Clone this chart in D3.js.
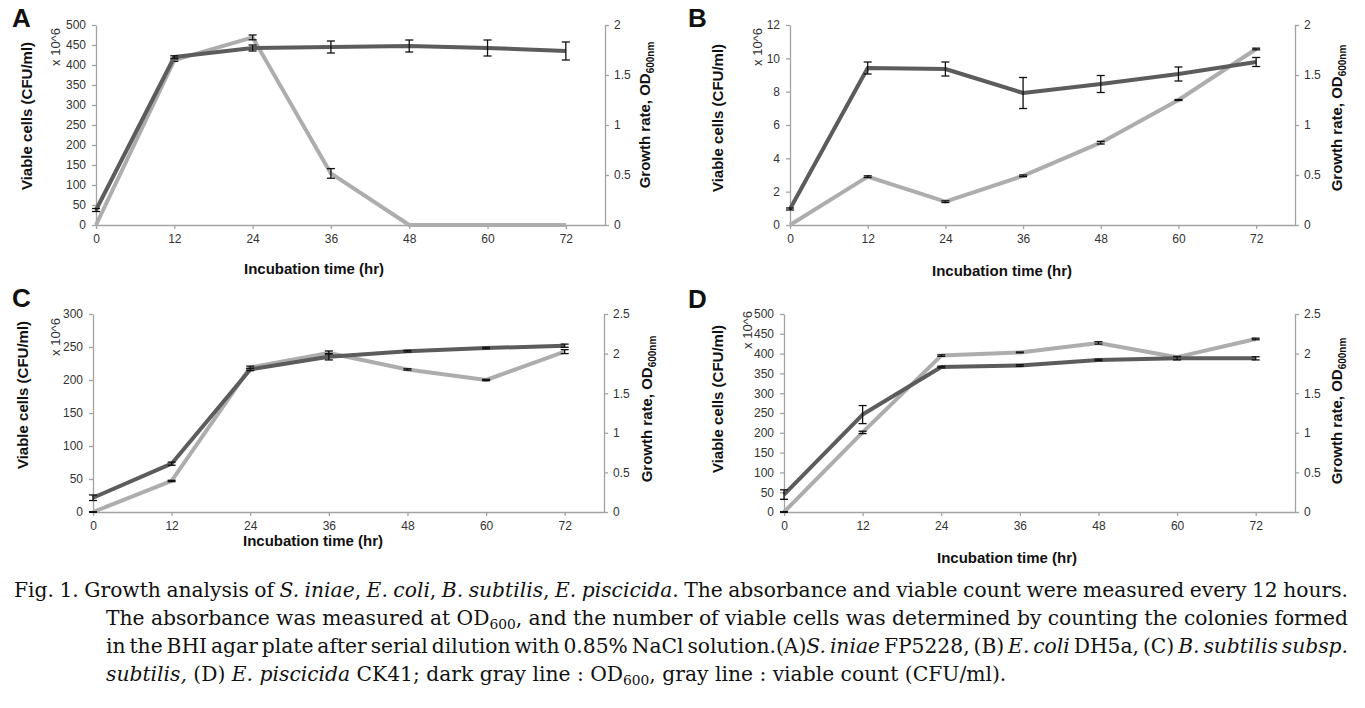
<!DOCTYPE html>
<html><head><meta charset="utf-8">
<script src="https://cdn.jsdelivr.net/npm/d3@7"></script>
<style>body{margin:0;background:#fff}svg{display:block}</style>
</head><body><svg id="c" width="1365" height="708"></svg>
<script>
// ---------- data ----------
const hours = [0, 12, 24, 36, 48, 60, 72];
const panelLetters = ["A", "B", "C", "D"];

const viableA    = [0, 412, 469, 129, 0, 0, 0];
const viableErrA = [0, 3, 6, 12, 0, 0, 0];
const odA        = [0.15, 1.68, 1.77, 1.78, 1.79, 1.77, 1.74];
const odErrA     = [0.015, 0.012, 0.03, 0.06, 0.06, 0.08, 0.09];

const viableB    = [0, 2.9, 1.4, 2.95, 4.94, 7.5, 10.56];
const viableErrB = [0, 0.05, 0.05, 0.05, 0.08, 0.03, 0.05];
const odB        = [0.16, 1.57, 1.56, 1.32, 1.41, 1.51, 1.63];
const odErrB     = [0.01, 0.06, 0.07, 0.155, 0.085, 0.07, 0.045];

const viableC    = [0, 47, 219, 241, 216, 200, 243];
const viableErrC = [0.5, 1, 2, 3, 1, 1, 3];
const odC        = [0.18, 0.61, 1.80, 1.96, 2.03, 2.07, 2.10];
const odErrC     = [0.035, 0.02, 0.015, 0.04, 0.01, 0.01, 0.02];

const viableD    = [0, 201, 395, 403, 427, 391, 437];
const viableErrD = [1, 3, 2, 1, 3, 2, 2];
const odD        = [0.22, 1.23, 1.83, 1.85, 1.92, 1.94, 1.94];
const odErrD     = [0.06, 0.114, 0.01, 0.01, 0.01, 0.02, 0.02];

const leftTicks500 = [0, 50, 100, 150, 200, 250, 300, 350, 400, 450, 500];
const leftTicks12  = [0, 2, 4, 6, 8, 10, 12];
const leftTicks300 = [0, 50, 100, 150, 200, 250, 300];
const rightTicks2   = [0, 0.5, 1, 1.5, 2];
const rightTicks2_5 = [0, 0.5, 1, 1.5, 2, 2.5];

const xTitle = "Incubation time (hr)";
const yLeftTitle = "Viable cells (CFU/ml)";
const yUnit = "x 10^6";
const yRightTitle = "Growth rate, OD";
const yRightSub = "600nm";

// ---------- layout ----------
const panels = [
  {letter: panelLetters[0], viable: viableA, vErr: viableErrA, od: odA, oErr: odErrA, lt: leftTicks500, rt: rightTicks2,
   L: 96, R: 605, T: 25, B: 225, lx: 12, ly: 27, ytx: 32, yty: 116, ux: 60, uy: 47, rtx: 650, rty: 115, xtx: 314, xty: 274},
  {letter: panelLetters[1], viable: viableB, vErr: viableErrB, od: odB, oErr: odErrB, lt: leftTicks12, rt: rightTicks2,
   L: 790, R: 1295, T: 25, B: 225, lx: 688, ly: 27, ytx: 723, yty: 118, ux: 762, uy: 47, rtx: 1342, rty: 118, xtx: 1002, xty: 276},
  {letter: panelLetters[2], viable: viableC, vErr: viableErrC, od: odC, oErr: odErrC, lt: leftTicks300, rt: rightTicks2_5,
   L: 93, R: 604, T: 314, B: 512, lx: 12, ly: 307, ytx: 28, yty: 395, ux: 60, uy: 337, rtx: 652, rty: 409, xtx: 313, xty: 546},
  {letter: panelLetters[3], viable: viableD, vErr: viableErrD, od: odD, oErr: odErrD, lt: leftTicks500, rt: rightTicks2_5,
   L: 784, R: 1295, T: 314, B: 512, lx: 688, ly: 308, ytx: 723, yty: 399, ux: 752, uy: 330, rtx: 1342, rty: 411, xtx: 1007, xty: 563}
];

const svg = d3.select("#c");
const SANS = "'Liberation Sans', Arial, sans-serif";
const AXIS_COL = "#a3a3a3", DARK = "#5c5c5c", LIGHT = "#adadad";

panels.forEach(p => {
  const g = svg.append("g");
  const x = d3.scaleLinear().domain([0, 78]).range([p.L, p.R]);
  const yL = d3.scaleLinear().domain([0, d3.max(p.lt)]).range([p.B, p.T]);
  const yR = d3.scaleLinear().domain([0, d3.max(p.rt)]).range([p.B, p.T]);

  const styleAxis = sel => {
    sel.select(".domain").attr("stroke", AXIS_COL).attr("stroke-width", 1.3);
    sel.selectAll(".tick line").attr("stroke", AXIS_COL).attr("stroke-width", 1.3);
    sel.selectAll(".tick text").attr("fill", "#333").style("font-family", SANS).style("font-size", "12px");
  };
  g.append("g").attr("transform", `translate(${p.L},0)`)
    .call(d3.axisLeft(yL).tickValues(p.lt).tickSize(4).tickSizeOuter(0).tickPadding(6).tickFormat(d => String(d)))
    .call(styleAxis);
  g.append("g").attr("transform", `translate(${p.R},0)`)
    .call(d3.axisRight(yR).tickValues(p.rt).tickSize(4).tickSizeOuter(0).tickPadding(5).tickFormat(d => String(d)))
    .call(styleAxis);
  g.append("g").attr("transform", `translate(0,${p.B})`)
    .call(d3.axisBottom(x).tickValues(hours).tickSize(4).tickSizeOuter(0).tickPadding(5).tickFormat(d => String(d)))
    .call(styleAxis);

  const viablePts = hours.map((h, i) => ({h, v: p.viable[i], e: p.vErr[i]}));
  const odPts = hours.map((h, i) => ({h, v: p.od[i], e: p.oErr[i]}));

  const drawSeries = (pts, y, col) => {
    g.append("path").datum(pts)
      .attr("d", d3.line().x(d => x(d.h)).y(d => y(d.v)))
      .attr("fill", "none").attr("stroke", col).attr("stroke-width", 4)
      .attr("stroke-linejoin", "round");
    const eb = g.append("g").attr("stroke", "#111").attr("stroke-width", 1.3);
    pts.filter(d => d.e > 0).forEach(d => {
      const cx = x(d.h), y1 = y(d.v - d.e), y2 = y(d.v + d.e);
      eb.append("line").attr("x1", cx).attr("x2", cx).attr("y1", y1).attr("y2", y2);
      eb.append("line").attr("x1", cx - 4).attr("x2", cx + 4).attr("y1", y1).attr("y2", y1);
      eb.append("line").attr("x1", cx - 4).attr("x2", cx + 4).attr("y1", y2).attr("y2", y2);
    });
  };
  drawSeries(viablePts, yL, LIGHT);
  drawSeries(odPts, yR, DARK);

  // texts
  g.append("text").attr("x", p.lx).attr("y", p.ly).text(p.letter)
    .style("font-family", SANS).style("font-weight", "bold").style("font-size", "26px").attr("fill", "#111");
  g.append("text").attr("transform", `translate(${p.ytx},${p.yty}) rotate(-90)`).attr("text-anchor", "middle")
    .text(yLeftTitle).style("font-family", SANS).style("font-weight", "bold").style("font-size", "15px").attr("fill", "#111");
  g.append("text").attr("transform", `translate(${p.ux},${p.uy}) rotate(-90)`).attr("text-anchor", "middle")
    .text(yUnit).style("font-family", SANS).style("font-size", "13px").attr("fill", "#333");
  const rt = g.append("text").attr("transform", `translate(${p.rtx},${p.rty}) rotate(-90)`).attr("text-anchor", "middle")
    .style("font-family", SANS).style("font-weight", "bold").style("font-size", "15px").attr("fill", "#111");
  rt.append("tspan").text(yRightTitle);
  rt.append("tspan").attr("dy", 4).style("font-size", "10px").text(yRightSub);
  g.append("text").attr("x", p.xtx).attr("y", p.xty).attr("text-anchor", "middle").text(xTitle)
    .style("font-family", SANS).style("font-weight", "bold").style("font-size", "15px").attr("fill", "#111");
});

// ---------- caption ----------
const captionLines = [
  [["Fig. 1. Growth analysis of ", "n"], ["S. iniae", "i"], [", ", "n"], ["E. coli", "i"], [", ", "n"], ["B. subtilis", "i"], [", ", "n"], ["E. piscicida", "i"], [". The absorbance and viable count were measured every 12 hours.", "n"]],
  [["The absorbance was measured at OD", "n"], ["600", "s"], [", and the number of viable cells was determined by counting the colonies formed", "n"]],
  [["in the BHI agar plate after serial dilution with 0.85% NaCl solution.(A)", "n"], ["S. iniae", "i"], [" FP5228, (B) ", "n"], ["E. coli", "i"], [" DH5a, (C) ", "n"], ["B. subtilis subsp.", "i"]],
  [["subtilis,", "i"], [" (D) ", "n"], ["E. piscicida", "i"], [" CK41; dark gray line : OD", "n"], ["600", "s"], [", gray line : viable count (CFU/ml).", "n"]]
];
const capX0 = [14, 106, 106, 106], capX1 = 1348, capY = [597, 625, 653, 681];
const lastLineEnd = 1007;

function toWords(runs) {
  const ws = []; let cur = [];
  runs.forEach(([t, s]) => {
    t.split(" ").forEach((part, i) => {
      if (i > 0) { if (cur.length) ws.push(cur); cur = []; }
      if (part) cur.push([part, s]);
    });
  });
  if (cur.length) ws.push(cur);
  return ws;
}
const capG = svg.append("g").style("font-family", "'DejaVu Serif', serif").attr("fill", "#111");
function drawWord(parent, word, fs) {
  const t = parent.append("text").style("font-size", fs + "px");
  let shifted = false;
  word.forEach(([txt, s]) => {
    const ts = t.append("tspan").text(txt);
    if (s === "i") ts.style("font-style", "italic");
    if (s === "s") { ts.style("font-size", (fs * 0.68) + "px").attr("dy", fs * 0.2); shifted = true; }
    else if (shifted) { ts.attr("dy", -fs * 0.2); shifted = false; }
  });
  return t;
}
function layout(fs, draw) {
  const tmp = capG.append("g");
  const sp = (() => { const a = tmp.append("text").style("font-size", fs + "px").text("x x").node().getComputedTextLength();
                      const b = tmp.append("text").style("font-size", fs + "px").text("xx").node().getComputedTextLength(); return a - b; })();
  let naturalLast = 0;
  captionLines.forEach((runs, li) => {
    const words = toWords(runs);
    const nodes = words.map(w => drawWord(draw ? capG : tmp, w, fs));
    const widths = nodes.map(n => n.node().getComputedTextLength());
    const sum = d3.sum(widths);
    const last = li === captionLines.length - 1;
    const gap = last ? sp : (capX1 - capX0[li] - sum) / (words.length - 1);
    if (last) naturalLast = sum + sp * (words.length - 1);
    let cx = capX0[li];
    nodes.forEach((n, i) => { n.attr("x", cx).attr("y", capY[li]); cx += widths[i] + gap; });
  });
  tmp.remove();
  return naturalLast;
}
const nat = layout(20, false);
const fs = Math.min(22, 20 * (lastLineEnd - capX0[3]) / nat);
layout(fs, true);
</script></body></html>
